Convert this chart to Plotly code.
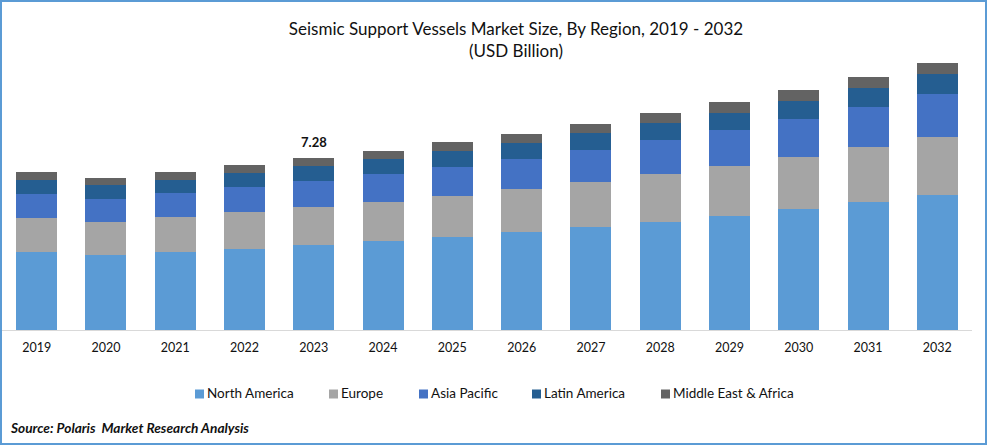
import plotly.graph_objects as go

years = [str(y) for y in range(2019, 2033)]
north_america = [3.30, 3.17, 3.30, 3.43, 3.60, 3.77, 3.94, 4.15, 4.36, 4.57, 4.82, 5.12, 5.42, 5.71]
europe = [1.44, 1.40, 1.48, 1.57, 1.61, 1.65, 1.74, 1.82, 1.90, 2.03, 2.12, 2.20, 2.33, 2.45]
asia_pacific = [1.02, 0.97, 1.02, 1.06, 1.10, 1.18, 1.23, 1.27, 1.35, 1.44, 1.52, 1.61, 1.69, 1.82]
latin_america = [0.59, 0.59, 0.55, 0.59, 0.63, 0.63, 0.68, 0.68, 0.72, 0.72, 0.72, 0.76, 0.80, 0.85]
middle_east = [0.34, 0.30, 0.34, 0.34, 0.34, 0.34, 0.38, 0.38, 0.38, 0.42, 0.47, 0.47, 0.47, 0.47]

series = [
    ("North America", north_america, "#5b9bd5"),
    ("Europe", europe, "#a5a5a5"),
    ("Asia Pacific", asia_pacific, "#4472c4"),
    ("Latin America", latin_america, "#255e91"),
    ("Middle East & Africa", middle_east, "#636363"),
]
legend_x = [195, 329, 419, 532, 661]  # swatch left edge in pixels, plotly's own legend can't get this tight

FONT = "Lato"
TEXT = "#111111"
W, H = 987, 445

fig = go.Figure()
for (name, values, color), lx in zip(series, legend_x):
    fig.add_bar(x=years, y=values, name=name, marker=dict(color=color, line_width=0), showlegend=False)
    fig.add_shape(type="rect", xref="paper", yref="paper", x0=lx / W, x1=(lx + 9) / W,
                  y0=1 - 398.5 / H, y1=1 - 389.5 / H, fillcolor=color, line_width=0)
    fig.add_annotation(x=(lx + 12) / W, y=1 - 393 / H, xref="paper", yref="paper", xanchor="left", yanchor="middle",
                       text=name, showarrow=False, borderpad=0, borderwidth=0,
                       font=dict(family=FONT, size=13.5, color=TEXT))

# 2023 total label, category axis wants the index here
fig.add_annotation(x=years.index("2023"), y=7.28, text="<b>7.28</b>", showarrow=False, yanchor="bottom", yshift=6,
                   font=dict(family=FONT, size=13, color=TEXT))
fig.add_annotation(x=10 / W, y=1 - 427 / H, xref="paper", yref="paper", xanchor="left", yanchor="middle",
                   text="<b><i>Source: Polaris  Market Research Analysis</i></b>", showarrow=False,
                   borderpad=0, borderwidth=0, font=dict(family=FONT, size=13.7, color=TEXT))

# blue frame around the whole picture
fig.add_shape(type="rect", xref="paper", yref="paper", x0=1 / W, x1=986 / W, y0=1 / H, y1=444 / H,
              line=dict(color="#5b9bd5", width=2), layer="above")

fig.update_layout(
    width=W, height=H, barmode="stack", bargap=0.41,
    margin=dict(l=0, r=0, t=0, b=0),
    paper_bgcolor="white", plot_bgcolor="white",
    font=dict(family=FONT, size=13, color=TEXT),
    title=dict(text="Seismic Support Vessels Market Size, By Region, 2019 - 2032<br>(USD Billion)",
               x=516 / W, xanchor="center", y=1 - 35 / H, yanchor="middle",
               font=dict(family=FONT, size=17, color=TEXT)),
    hovermode=False,
)
fig.update_xaxes(type="category", range=[-0.5, 13.5], domain=[2 / W, 972 / W], showline=True,
                 linecolor="#d9d9d9", linewidth=1, ticks="", showgrid=False, ticklabelstandoff=6,
                 tickfont=dict(family=FONT, size=12.5, color=TEXT), automargin=False)
fig.update_yaxes(domain=[115 / H, 1], range=[0, 13.97], visible=False)

fig.write_html("out.html", config=dict(displayModeBar=False),
               post_script="document.body.style.margin='0';document.body.style.overflow='hidden';")
